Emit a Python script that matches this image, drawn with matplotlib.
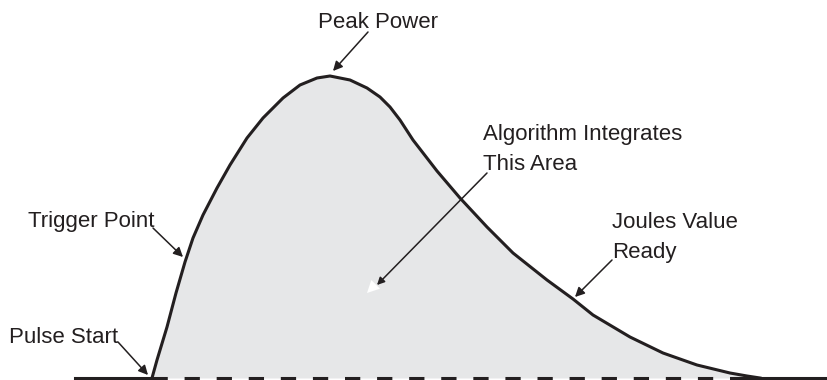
import matplotlib
matplotlib.use("Agg")
import matplotlib.pyplot as plt

# pulse shape (time in px, power in px above baseline)
pulse_t = [152, 157, 167, 176, 185, 193, 203, 217, 230, 247, 263, 283, 300, 317,
           330, 350, 367, 380, 390, 400, 413, 437, 460, 487, 513, 547, 573, 593,
           630, 663, 697, 730, 747, 760]
pulse_p = [0, 18, 51, 85, 116, 140, 163, 190, 213, 240, 260, 280, 293, 300,
           302, 298, 290, 281, 271, 258, 238, 207, 180, 151, 125, 98, 79, 63,
           41, 25, 13, 5, 2, 0]

baseline_left = [75, 152]
baseline_dashed = [152, 745]
baseline_right = [738, 828]

# label, text position (left, baseline), arrow tail, arrow tip
labels = ["Peak Power", "Trigger Point", "Pulse Start", "Joules Value\nReady"]
text_xy = [(318, 350), (28, 151), (9, 35), (612, 120)]
arrow_tail = [(368, 346), (153, 150), (118, 36), (612, 118)]
arrow_tip = [(333, 307), (183, 121), (148, 3), (575, 81)]

area_label = "Algorithm Integrates\nThis Area"
area_text_xy = (483, 208)
area_tail = (487, 205)
area_tip = (377, 93)
area_tip_halo = (367, 85)

ink = "#231f20"
fill = "#e6e7e8"
font = ["Liberation Sans", "DejaVu Sans"]
fsize = 16

fig = plt.figure(figsize=(8.28, 3.8), dpi=100)
ax = fig.add_axes([0, 0, 1, 1])
ax.set_xlim(0, 828)
ax.set_ylim(-2, 378)
ax.axis("off")

ax.fill_between(pulse_t, 0, pulse_p, color=fill, lw=0, zorder=1)
ax.plot(pulse_t, pulse_p, color=ink, lw=2.2, solid_joinstyle="round", zorder=3)

ax.plot(baseline_left, [0, 0], color=ink, lw=2.2, zorder=2)
ax.plot(baseline_right, [0, 0], color=ink, lw=2.2, zorder=2)
ax.plot(baseline_dashed, [0, 0], color=ink, lw=2.2, dashes=(5, 5.5), zorder=2)

for lab, txy, tail, tip in zip(labels, text_xy, arrow_tail, arrow_tip):
    ax.text(txy[0], txy[1], lab, family=font, fontsize=fsize, color=ink,
            ha="left", va="baseline", linespacing=1.55)
    ax.annotate("", xy=tip, xytext=tail,
                arrowprops=dict(arrowstyle="-|>", color=ink, lw=1.1,
                                mutation_scale=14, shrinkA=0, shrinkB=0))

ax.text(area_text_xy[0], area_text_xy[1], area_label, family=font, fontsize=fsize,
        color=ink, ha="left", va="baseline", linespacing=1.55)
# white halo head under the black one
ax.annotate("", xy=area_tip_halo, xytext=area_tail,
            arrowprops=dict(arrowstyle="-|>", fc="white", ec="white", lw=0,
                            mutation_scale=22, shrinkA=0, shrinkB=0), zorder=4)
ax.annotate("", xy=area_tip, xytext=area_tail,
            arrowprops=dict(arrowstyle="-|>", color=ink, lw=1.1,
                            mutation_scale=11, shrinkA=0, shrinkB=0), zorder=5)

fig.savefig("out.png", dpi=100, facecolor="white")
